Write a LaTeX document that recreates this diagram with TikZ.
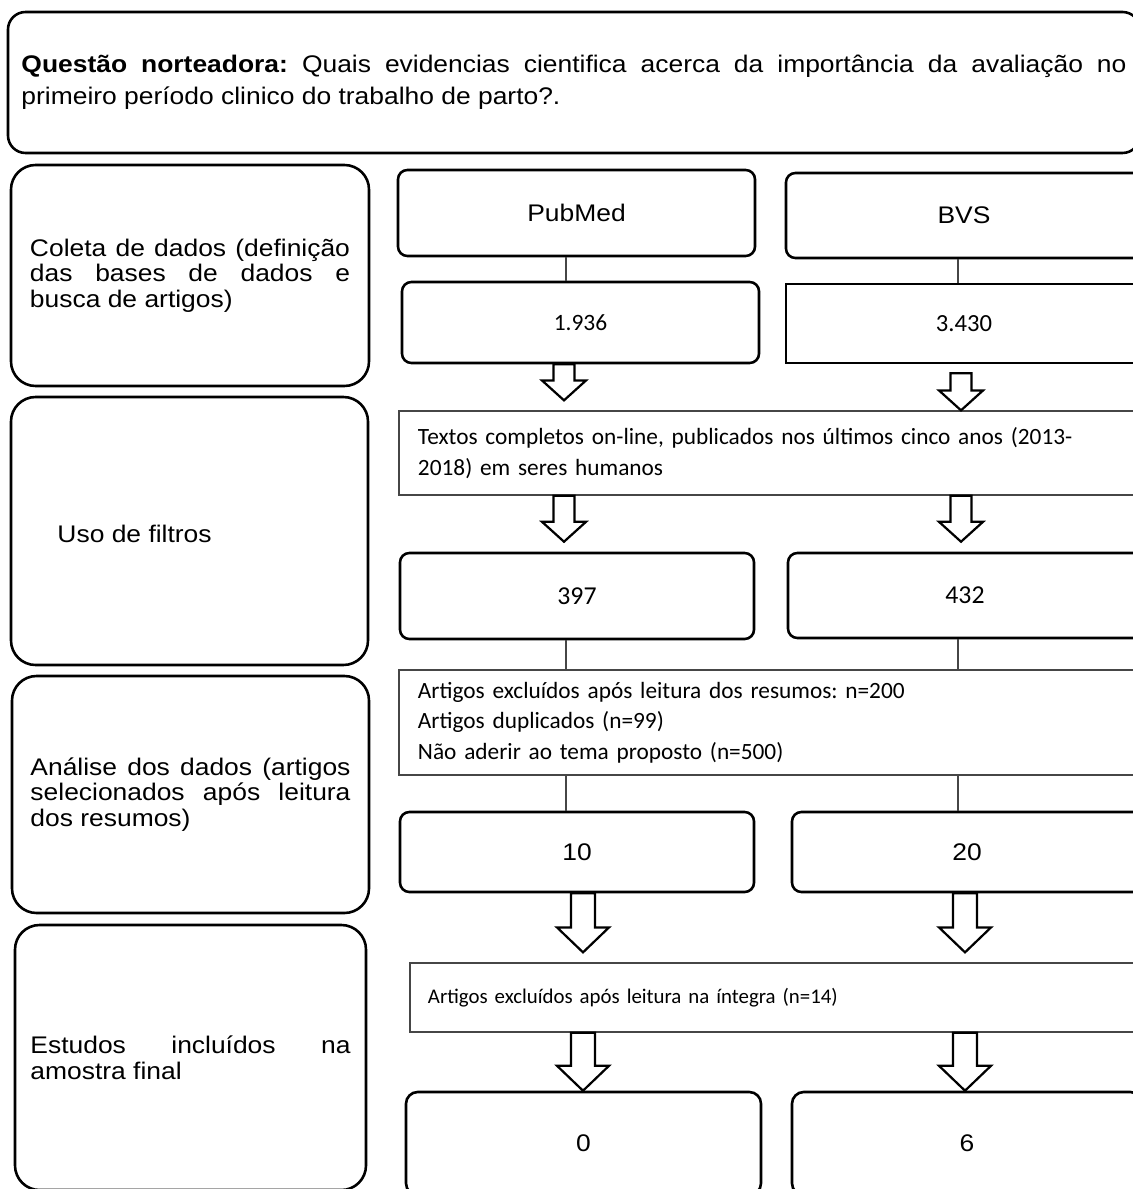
\documentclass[tikz,border=0pt]{standalone}
\usepackage{fontspec}
\usepackage{tikz}
\usetikzlibrary{calc}
\newfontfamily\arialfont[FakeStretch=1.1]{Liberation Sans}
\newfontfamily\calibrifont{Carlito}
\definecolor{boxline}{RGB}{0,0,0}
\definecolor{thinline}{RGB}{70,70,70}
\newcommand{\leftfont}{\arialfont\fontsize{20.5pt}{21.8pt}\selectfont}
\newcommand{\numfont}[1]{\calibrifont\fontsize{#1}{1.2\dimexpr#1\relax}\selectfont}
\frenchspacing

% hollow block arrow: start, tip, shaft half width, head half width, head length
\newcommand{\blockarrow}[5]{%
  \draw[hollow] let \p1=(#1), \p2=(#2) in
    (\x1-#3,\y1) -- (\x1-#3,\y2+#5) -- (\x1-#4,\y2+#5) -- (\x1,\y2)
    -- (\x1+#4,\y2+#5) -- (\x1+#3,\y2+#5) -- (\x1+#3,\y1) -- cycle;}
\newcommand{\smallarrow}[2]{\blockarrow{#1}{#2}{9pt}{18.8pt}{17pt}}
\newcommand{\bigarrow}[2]{\blockarrow{#1}{#2}{10.2pt}{22.2pt}{21.3pt}}

\begin{document}
\begin{tikzpicture}[
    x=0.03cm, y=-0.03cm,
    question/.style={draw=boxline, line width=2.2pt, rounded corners=15pt, minimum width=33.96cm, minimum height=4.23cm, text width=33.15cm, align=justify, font=\arialfont\fontsize{20.5pt}{27.3pt}\selectfont},
    stage/.style={draw=boxline, line width=2.2pt, rounded corners=21pt, minimum width=10.74cm, text width=9.6cm, align=justify, font=\leftfont},
    base/.style={draw=boxline, line width=2.2pt, rounded corners=8pt, minimum width=10.71cm, minimum height=2.58cm, font=\leftfont},
    filterbox/.style={draw=thinline, line width=1.1pt, minimum width=22.38cm, minimum height=2.52cm, text width=21.24cm, align=left, font=\calibrifont\fontsize{19.9pt}{26pt}\selectfont},
    link/.style={draw=thinline, line width=0.9pt},
    hollow/.style={draw=boxline, line width=1.9pt, fill=white, line join=miter}
]
    \useasboundingbox (0,0) rectangle (1133,1189);
    \clip (0,0) rectangle (1133,1189);

    % columns used by the connectors
    \coordinate (colA) at (564,0);
    \coordinate (colB) at (961,0);
    \coordinate (colC) at (583,0);
    \coordinate (colD) at (965,0);
    \coordinate (lineL) at (566,0);
    \coordinate (lineR) at (958,0);

    \node[question] (quest) at (574,82.5) {\textbf{Questão norteadora:} Quais evidencias cientifica acerca da importância da avaliação no\linebreak primeiro período clinico do trabalho de parto?.};

    % stages on the left
    \node[stage, minimum height=6.63cm] (coleta) at (190,275.5) {Coleta de dados (definição\linebreak das bases de dados e\linebreak busca de artigos)};
    \node[stage, minimum width=10.71cm, minimum height=8.04cm] (filtros) at (189.5,531) {\hspace*{0.84cm}\raisebox{-0.72cm}{Uso de filtros}};
    \node[stage, minimum width=10.71cm, minimum height=7.11cm] (analise) at (190.5,794.5) {Análise dos dados (artigos\linebreak selecionados após leitura\linebreak dos resumos)};
    \node[stage, minimum width=10.53cm, minimum height=7.95cm] (estudos) at (190.5,1057.5) {Estudos incluídos na\linebreak amostra final};

    % databases and counts
    \node[base] (pubmed) at (576.5,213) {PubMed};
    \node[base, minimum width=10.68cm, minimum height=2.55cm] (bvs) at (964,215.5) {BVS};
    \node[base, minimum height=2.43cm, font=\numfont{20pt}] (n1936) at (580.5,322.5) {1.936};
    \node[base, sharp corners, minimum width=10.68cm, minimum height=2.37cm, font=\numfont{21pt}] (n3430) at (964,323.5) {3.430};
    \node[filterbox] (filtro) at (772,453) {Textos completos on-line, publicados nos últimos cinco anos (2013-\\2018) em seres humanos};
    \node[base, minimum width=10.62cm, font=\numfont{22pt}] (n397) at (577,596) {397};
    \node[base, minimum width=10.62cm, minimum height=2.55cm, font=\numfont{22pt}] (n432) at (965,595.5) {432};
    \node[filterbox, minimum height=3.15cm] (excl1) at (772,722.5) {Artigos excluídos após leitura dos resumos: n=200\\Artigos duplicados (n=99)\\Não aderir ao tema proposto (n=500)};
    \node[base, minimum width=10.62cm, minimum height=2.4cm] (n10) at (577,852) {10};
    \node[base, minimum width=10.5cm, minimum height=2.4cm] (n20) at (967,852) {20};
    \node[filterbox, minimum width=22.05cm, minimum height=2.07cm, text width=20.97cm, font=\calibrifont\fontsize{17.8pt}{22pt}\selectfont] (excl2) at (777.5,997.5) {Artigos excluídos após leitura na íntegra (n=14)};
    \node[base, minimum width=10.65cm, minimum height=3.09cm, rounded corners=10pt] (n0) at (583.5,1143.5) {0};
    \node[base, minimum width=10.5cm, minimum height=3.09cm, rounded corners=10pt] (n6) at (967,1143.5) {6};

    % thin links
    \draw[link] (pubmed.south -| lineL) -- (n1936.north -| lineL);
    \draw[link] (bvs.south -| lineR) -- (n3430.north -| lineR);
    \draw[link] (n397.south -| lineL) -- (excl1.north -| lineL);
    \draw[link] (n432.south -| lineR) -- (excl1.north -| lineR);
    \draw[link] (excl1.south -| lineL) -- (n10.north -| lineL);
    \draw[link] (excl1.south -| lineR) -- (n20.north -| lineR);

    % hollow arrows
    \smallarrow{n1936.south -| colA}{$(filtro.north -| colA)+(0,-10)$}
    \smallarrow{$(n3430.south -| colB)+(0,9)$}{filtro.north -| colB}
    \smallarrow{filtro.south -| colA}{$(n397.north -| colA)+(0,-10)$}
    \smallarrow{filtro.south -| colB}{$(n432.north -| colB)+(0,-10)$}
    \bigarrow{n10.south -| colC}{$(excl2.north -| colC)+(0,-10)$}
    \bigarrow{n20.south -| colD}{$(excl2.north -| colD)+(0,-10)$}
    \bigarrow{excl2.south -| colC}{n0.north -| colC}
    \bigarrow{excl2.south -| colD}{n6.north -| colD}
\end{tikzpicture}
\end{document}
